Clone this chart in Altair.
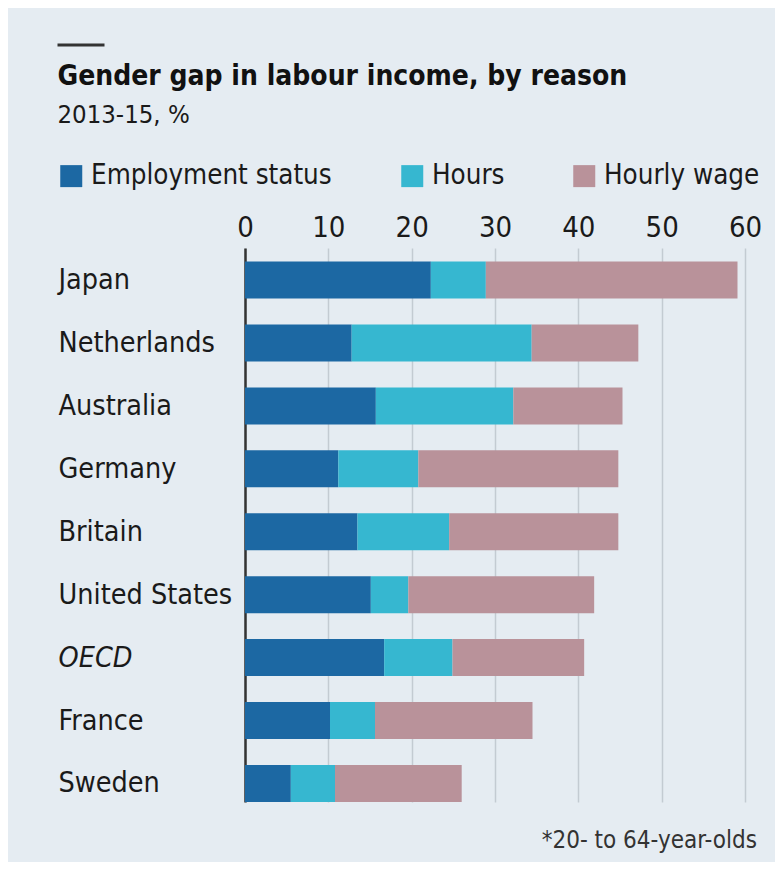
import altair as alt
import pandas as pd

countries = ["Japan", "Netherlands", "Australia", "Germany", "Britain",
             "United States", "OECD", "France", "Sweden"]
employment = [22.3, 12.8, 15.7, 11.2, 13.5, 15.1, 16.7, 10.2, 5.5]
hours = [6.6, 21.6, 16.5, 9.6, 11.0, 4.5, 8.2, 5.4, 5.3]
wage = [30.2, 12.8, 13.1, 24.0, 20.3, 22.3, 15.8, 18.9, 15.2]
reasons = ["Employment status", "Hours", "Hourly wage"]
colors = ["#1c68a3", "#36b7d0", "#b9929a"]
x_ticks = [0, 10, 20, 30, 40, 50, 60]

rows = []
for i, c in enumerate(countries):
    for k, (r, v) in enumerate(zip(reasons, [employment[i], hours[i], wage[i]])):
        rows.append({"country": c, "reason": r, "value": v, "order": k})
df = pd.DataFrame(rows)

FONT = "Liberation Sans Narrow, DejaVu Sans Condensed, sans-serif"
W, H = 500, 554

bars = alt.Chart(df).mark_bar(size=37).encode(
    x=alt.X("value:Q", stack="zero",
            scale=alt.Scale(domain=[0, 60], nice=False),
            axis=alt.Axis(orient="top", values=x_ticks, title=None, domain=False,
                          ticks=False, grid=True, gridColor="#c3cbd2", gridWidth=1.5,
                          labelFontSize=29, labelColor="#1a1a1a", labelPadding=6,
                          labelFlush=False, labelFont=FONT)),
    y=alt.Y("country:N", sort=countries,
            scale=alt.Scale(paddingInner=0.41, paddingOuter=0.107, align=1),
            axis=alt.Axis(title=None, ticks=False, domain=True, domainColor="#333333",
                          domainWidth=2.5, labelAlign="left", labelPadding=187,
                          labelFontSize=28.5, labelColor="#1a1a1a", labelFont=FONT,
                          labelLimit=0,
                          labelFontStyle={"condition": {"test": "datum.value == 'OECD'",
                                                        "value": "italic"},
                                          "value": "normal"})),
    color=alt.Color("reason:N", sort=reasons,
                    scale=alt.Scale(domain=reasons, range=colors),
                    legend=alt.Legend(title=None, orient="none", legendX=-187.5, legendY=-86,
                                      direction="horizontal", symbolType="square",
                                      symbolSize=484, symbolStrokeWidth=0,
                                      labelFontSize=27.5, labelFont=FONT, labelColor="#1a1a1a",
                                      labelOffset=6, columnPadding=66, labelLimit=0)),
    order=alt.Order("order:Q"),
)

foot = alt.Chart(pd.DataFrame({"t": ["*20- to 64-year-olds"]})).mark_text(
    align="right", baseline="alphabetic", fontSize=24, font=FONT, color="#333333"
).encode(x=alt.value(W + 12), y=alt.value(H + 46), text="t:N")

decor = alt.Chart(pd.DataFrame({"a": [0]})).mark_rule(color="#333333", strokeWidth=3).encode(
    x=alt.value(-187.5), x2=alt.value(-140.5), y=alt.value(-203)
)

chart = alt.layer(bars, foot, decor).properties(
    width=W, height=H,
    background="#e5ecf2",
    padding={"left": 237, "top": 240, "right": 30, "bottom": 60},
    autosize=alt.AutoSizeParams(type="none"),
    title=alt.TitleParams(
        text="Gender gap in labour income, by reason",
        subtitle="2013-15, %",
        anchor="start", frame="group", dx=-187.5, dy=85,
        font=FONT, fontSize=28, fontWeight="bold", color="#111111",
        subtitleFont=FONT, subtitleFontSize=25.5, subtitleColor="#1a1a1a",
        subtitlePadding=12, offset=0,
    ),
).configure_view(stroke=None)

chart.save("out.html", embed_options={"renderer": "svg", "actions": False})
